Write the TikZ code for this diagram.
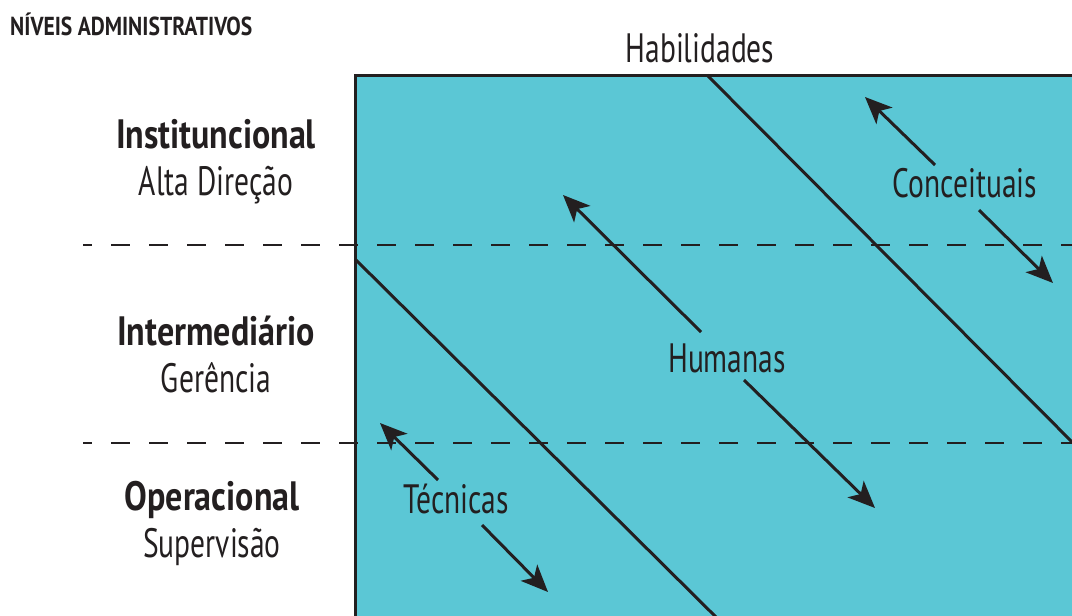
\documentclass[tikz,border=0pt]{standalone}
\usepackage{fontspec}
\setmainfont[FakeStretch=0.72,BoldFeatures={FakeStretch=0.83}]{PT Sans}
\usetikzlibrary{arrows.meta}
\definecolor{panel}{RGB}{91,199,213}
\definecolor{ink}{RGB}{35,31,32}
\tikzset{
  dashline/.style={draw=ink, line width=1.5pt, dash pattern=on 19pt off 19pt, dash phase=10pt},
  diag/.style={draw=ink, line width=3pt},
  arr/.style={draw=ink, line width=3pt, -{Stealth[length=27pt,width=23pt,inset=7pt]}},
  big/.style={text=ink, font=\fontsize{41}{48}\selectfont, inner sep=0pt, anchor=base},
  bigb/.style={text=ink, font=\fontsize{41}{48}\selectfont\bfseries, inner sep=0pt, anchor=base},
}
\begin{document}
\begin{tikzpicture}[x=1pt,y=-1pt]
\useasboundingbox (0,0) rectangle (1072,616);
\clip (0,0) rectangle (1072,616);
% panel
\fill[panel] (355,75) rectangle (1090,630);
\draw[ink, line width=3pt] (355,640) -- (355,75) -- (1090,75);
% diagonal separators
\coordinate (d1a) at (707,75);
\coordinate (d1b) at (1080,450);
\coordinate (d2a) at (355,259);
\coordinate (d2b) at (725,626);
\draw[diag] (d1a) -- (d1b);
\draw[diag] (d2a) -- (d2b);
% dashed level lines
\coordinate (l1a) at (83,245);
\coordinate (l1b) at (1080,245);
\coordinate (l2a) at (83,443);
\coordinate (l2b) at (1080,443);
\draw[dashline] (l1a) -- (l1b);
\draw[dashline] (l2a) -- (l2b);
% title and header
\node[text=ink, font=\fontsize{26}{30}\selectfont\bfseries, inner sep=0pt, anchor=base west] (title) at (10,35) {NÍVEIS ADMINISTRATIVOS};
\node[big] (hab) at (700,62) {Habilidades};
% level labels
\node[bigb] (inst) at (216,148) {Instituncional};
\node[big] (alta) at (216,195) {Alta Direção};
\node[bigb] (inter) at (216,345) {Intermediário};
\node[big] (ger) at (216,392) {Gerência};
\node[bigb] (oper) at (212,510) {Operacional};
\node[big] (sup) at (212,557) {Supervisão};
% skill labels
\node[big] (conc) at (965,197) {Conceituais};
\node[big] (hum) at (727,372) {Humanas};
\node[big] (tec) at (456,513) {Técnicas};
% arrows
\coordinate (c1s) at (935,165); \coordinate (c1t) at (865,97);
\coordinate (c2s) at (979,210); \coordinate (c2t) at (1053,283);
\coordinate (h1s) at (701,332); \coordinate (h1t) at (563,195);
\coordinate (h2s) at (744,380); \coordinate (h2t) at (875,508);
\coordinate (t1s) at (438,480); \coordinate (t1t) at (380,423);
\coordinate (t2s) at (482,525); \coordinate (t2t) at (548,592);
\draw[arr] (c1s) -- (c1t);
\draw[arr] (c2s) -- (c2t);
\draw[arr] (h1s) -- (h1t);
\draw[arr] (h2s) -- (h2t);
\draw[arr] (t1s) -- (t1t);
\draw[arr] (t2s) -- (t2t);
\end{tikzpicture}
\end{document}
